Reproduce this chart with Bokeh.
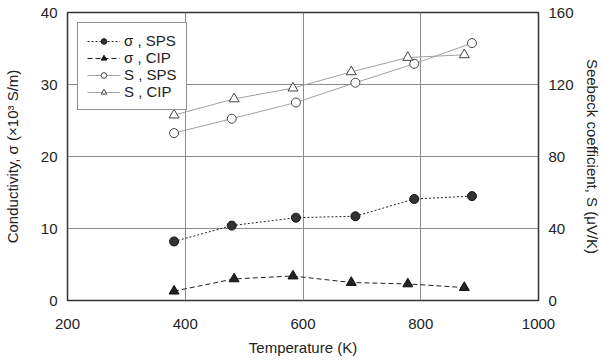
from bokeh.plotting import figure
from bokeh.models import Range1d, LinearAxis, FixedTicker, Legend, LegendItem
from bokeh.embed import file_html
from bokeh.resources import INLINE

# Data
temp_sps = [381, 479, 588, 689, 789, 887]
temp_cip = [381, 483, 583, 682, 778, 874]
sigma_sps = [8.2, 10.4, 11.5, 11.7, 14.1, 14.5]
sigma_cip = [1.3, 3.0, 3.4, 2.5, 2.3, 1.8]
seebeck_sps = [93, 101, 110, 121, 131.5, 143]
seebeck_cip = [103, 112, 118, 127, 135, 136.5]

x_ticks = [200, 400, 600, 800, 1000]
y_ticks = [0, 10, 20, 30, 40]
y2_ticks = [0, 40, 80, 120, 160]

FONT = "Liberation Sans"

p = figure(frame_width=471, frame_height=288, output_backend="svg", toolbar_location=None,
           x_range=Range1d(200, 1000), y_range=Range1d(0, 40),
           min_border_left=64, min_border_right=61, min_border_top=12, min_border_bottom=55)
p.extra_y_ranges = {"s": Range1d(0, 160)}

p.outline_line_color = "#333333"
p.outline_line_width = 1.5
p.background_fill_color = "white"
p.border_fill_color = "white"

# grids
p.xgrid.ticker = FixedTicker(ticks=x_ticks)
p.ygrid.ticker = FixedTicker(ticks=y_ticks)
for g in (p.xgrid, p.ygrid):
    g.grid_line_color = "#8c8c8c"
    g.grid_line_width = 1

def style_axis(ax, label_standoff, title_standoff):
    ax.axis_line_color = None
    ax.major_tick_in = 0
    ax.major_tick_out = 0
    ax.minor_tick_in = 0
    ax.minor_tick_out = 0
    ax.major_label_text_font = FONT
    ax.major_label_text_font_size = "15px"
    ax.major_label_text_color = "#222222"
    ax.axis_label_text_font = FONT
    ax.axis_label_text_font_size = "15px"
    ax.axis_label_text_font_style = "normal"
    ax.axis_label_text_color = "#222222"
    ax.major_label_standoff = label_standoff
    ax.axis_label_standoff = title_standoff

xa = p.xaxis[0]
xa.ticker = FixedTicker(ticks=x_ticks)
xa.axis_label = "Temperature (K)"
style_axis(xa, 18, 7)

ya = p.yaxis[0]
ya.ticker = FixedTicker(ticks=y_ticks)
ya.axis_label = "Conductivity, σ (×10³ S/m)"
style_axis(ya, 10, 17)

ya2 = LinearAxis(y_range_name="s", ticker=FixedTicker(ticks=y2_ticks),
                 axis_label="Seebeck coefficient, S (μV/K)")
style_axis(ya2, 10, 7)
ya2.axis_label_orientation = "vertical"
p.add_layout(ya2, "right")

# sigma SPS
l1 = p.line(temp_sps, sigma_sps, line_color="#222222", line_width=1, line_dash="2 2")
m1 = p.scatter(temp_sps, sigma_sps, marker="circle", size=9, fill_color="#333333",
               line_color="#111111")
# sigma CIP
l2 = p.line(temp_cip, sigma_cip, line_color="#222222", line_width=1, line_dash="5 3")
m2 = p.scatter(temp_cip, sigma_cip, marker="triangle", size=10, fill_color="#222222",
               line_color="#111111")
# S SPS
l3 = p.line(temp_sps, seebeck_sps, line_color="#a0a0a0", line_width=1, y_range_name="s")
m3 = p.scatter(temp_sps, seebeck_sps, marker="circle", size=9, fill_color="white",
               line_color="#444444", y_range_name="s")
# S CIP
l4 = p.line(temp_cip, seebeck_cip, line_color="#a0a0a0", line_width=1, y_range_name="s")
m4 = p.scatter(temp_cip, seebeck_cip, marker="triangle", size=10, fill_color="white",
               line_color="#444444", y_range_name="s")

legend = Legend(items=[
    LegendItem(label="σ , SPS", renderers=[l1, m1]),
    LegendItem(label="σ , CIP", renderers=[l2, m2]),
    LegendItem(label="S , SPS", renderers=[l3, m3]),
    LegendItem(label="S , CIP", renderers=[l4, m4]),
], location="top_left")
legend.margin = 10
legend.padding = 9
legend.spacing = 0
legend.glyph_width = 33
legend.glyph_height = 14
legend.label_height = 14
legend.label_standoff = 4
legend.label_text_font = FONT
legend.label_text_font_size = "15px"
legend.label_text_color = "#222222"
legend.border_line_color = "#222222"
legend.border_line_width = 1.2
legend.background_fill_alpha = 1
p.add_layout(legend, "center")

open("out.html", "w").write(file_html(p, INLINE))
